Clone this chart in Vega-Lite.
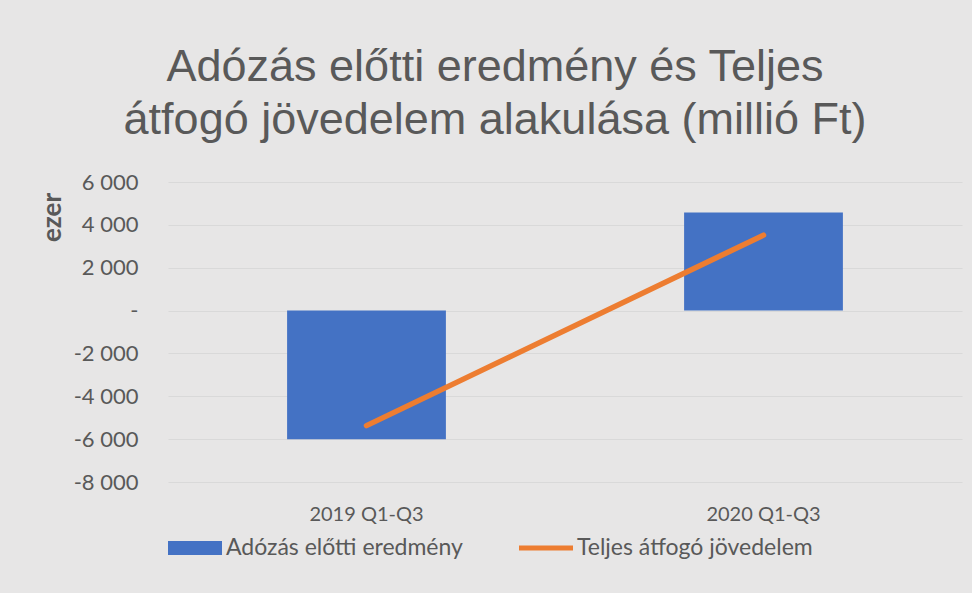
{
  "$schema": "https://vega.github.io/schema/vega-lite/v6.json",
  "width": 794,
  "height": 300,
  "autosize": {"type": "none"},
  "padding": {"left": 168, "top": 182, "right": 10, "bottom": 111},
  "background": "#e7e6e6",
  "config": {"view": {"stroke": null}, "font": "Lato"},
  "title": {
    "text": ["Adózás előtti eredmény és Teljes", "átfogó jövedelem alakulása (millió Ft)"],
    "font": "Liberation Sans",
    "fontSize": 45,
    "fontWeight": "normal",
    "color": "#595959",
    "anchor": "middle",
    "frame": "group",
    "dx": -70,
    "offset": 28,
    "lineHeight": 53
  },
  "data": {
    "values": [
      {"period": "2019 Q1-Q3", "series": "Adózás előtti eredmény", "value": -6000},
      {"period": "2020 Q1-Q3", "series": "Adózás előtti eredmény", "value": 4580},
      {"period": "2019 Q1-Q3", "series": "Teljes átfogó jövedelem", "value": -5370},
      {"period": "2020 Q1-Q3", "series": "Teljes átfogó jövedelem", "value": 3520}
    ]
  },
  "encoding": {
    "x": {
      "field": "period",
      "type": "nominal",
      "sort": null,
      "scale": {"paddingInner": 0.6, "paddingOuter": 0.3},
      "axis": {
        "title": null,
        "labelAngle": 0,
        "labelFont": "Lato",
        "labelFontSize": 20,
        "labelColor": "#595959",
        "labelPadding": 22,
        "ticks": false,
        "tickSize": 0,
        "domain": false,
        "grid": false
      }
    },
    "color": {
      "field": "series",
      "type": "nominal",
      "scale": {
        "domain": ["Adózás előtti eredmény", "Teljes átfogó jövedelem"],
        "range": ["#4472c4", "#ed7d31"]
      },
      "legend": {
        "orient": "bottom",
        "direction": "horizontal",
        "title": null,
        "labelFont": "Lato",
        "labelFontSize": 23,
        "labelColor": "#595959",
        "labelLimit": 0,
        "symbolSize": 2916,
        "columnPadding": 56,
        "labelOffset": 4,
        "offset": -3,
        "padding": 0,
        "encode": {
          "symbols": {
            "update": {
              "shape": {"signal": "datum.value === 'Adózás előtti eredmény' ? 'M-1,-0.26H1V0.26H-1Z' : 'M-1,-0.09H1V0.09H-1Z'"},
              "fill": {"scale": "color", "field": "value"},
              "stroke": {"value": "transparent"},
              "strokeWidth": {"value": 0},
              "opacity": {"value": 1},
              "fillOpacity": {"value": 1}
            }
          }
        }
      }
    }
  },
  "layer": [
    {
      "transform": [{"filter": "datum.series === 'Adózás előtti eredmény'"}],
      "mark": {"type": "bar"},
      "encoding": {
        "y": {
          "field": "value",
          "type": "quantitative",
          "scale": {"domain": [-8000, 6000], "nice": false},
          "axis": {
            "values": [-8000, -6000, -4000, -2000, 0, 2000, 4000, 6000],
            "title": "ezer",
            "titleFont": "Lato",
            "titleFontSize": 26,
            "titleFontWeight": "bold",
            "titleColor": "#595959",
            "titleX": -116,
            "titleY": 35,
            "titleAngle": -90,
            "titleAlign": "center",
            "titleBaseline": "middle",
            "labelExpr": "datum.value == 0 ? '-' : (datum.value < 0 ? '-' : '') + replace(format(abs(datum.value), ','), ',', ' ')",
            "labelFont": "Lato",
            "labelFontSize": 22,
            "labelColor": "#595959",
            "labelPadding": 30,
            "ticks": false,
            "tickSize": 0,
            "domain": false,
            "grid": true,
            "gridColor": "#d9d9d9",
            "gridWidth": 1
          }
        }
      }
    },
    {
      "transform": [{"filter": "datum.series === 'Teljes átfogó jövedelem'"}],
      "mark": {"type": "line", "strokeWidth": 5.5, "strokeCap": "round"},
      "encoding": {
        "y": {"field": "value", "type": "quantitative"}
      }
    }
  ]
}
